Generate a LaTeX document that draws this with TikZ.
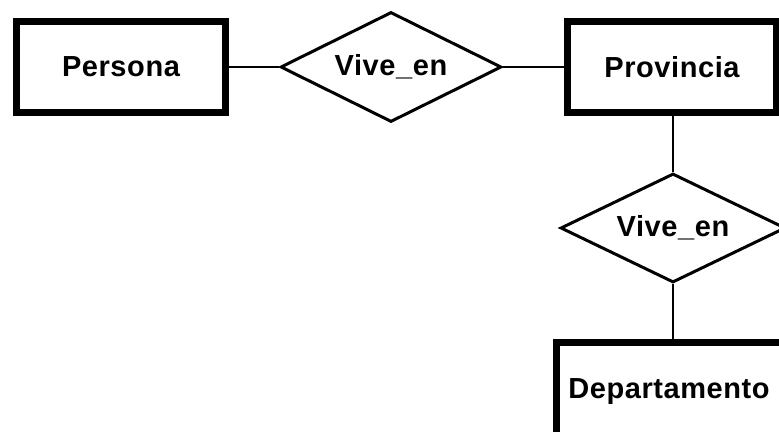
\documentclass[tikz,border=0pt]{standalone}
\usepackage{fontspec}
\setmainfont{Liberation Sans}
\usetikzlibrary{shapes.geometric}
\tikzset{
  erfont/.style={font=\fontsize{29}{32}\selectfont\bfseries\addfontfeatures{LetterSpace=2}},
  entity/.style={draw, line width=7pt, minimum width=209pt, minimum height=91pt, inner sep=0pt, erfont},
  relation/.style={draw, diamond, line width=3pt, inner sep=0pt, shape aspect=2, erfont},
  link/.style={line width=1.2pt}
}
\begin{document}
\begin{tikzpicture}[x=1pt,y=-1pt]
\useasboundingbox (0,0) rectangle (779,431);
\clip (0,0) rectangle (779,431);
\fill[white] (0,0) rectangle (779,431);
\node[entity] (persona) at (121,67) {Persona};
\node[relation, minimum width=221pt, minimum height=110pt] (vive1) at (391,67) {Vive\_en};
\node[entity] (provincia) at (672,67) {Provincia};
\node[relation, minimum width=225pt, minimum height=109pt] (vive2) at (673,228) {Vive\_en};
\node[entity, minimum width=235pt, minimum height=93pt, text depth=0pt] (depto) at (674,389) {\hspace*{-10pt}Departamento};
\draw[link] (persona.east) -- (vive1.west);
\draw[link] (vive1.east) -- (provincia.west);
\draw[link] (provincia.south -| vive2.north) -- (vive2.north);
\draw[link] (vive2.south) -- (vive2.south |- depto.north);
\end{tikzpicture}
\end{document}
